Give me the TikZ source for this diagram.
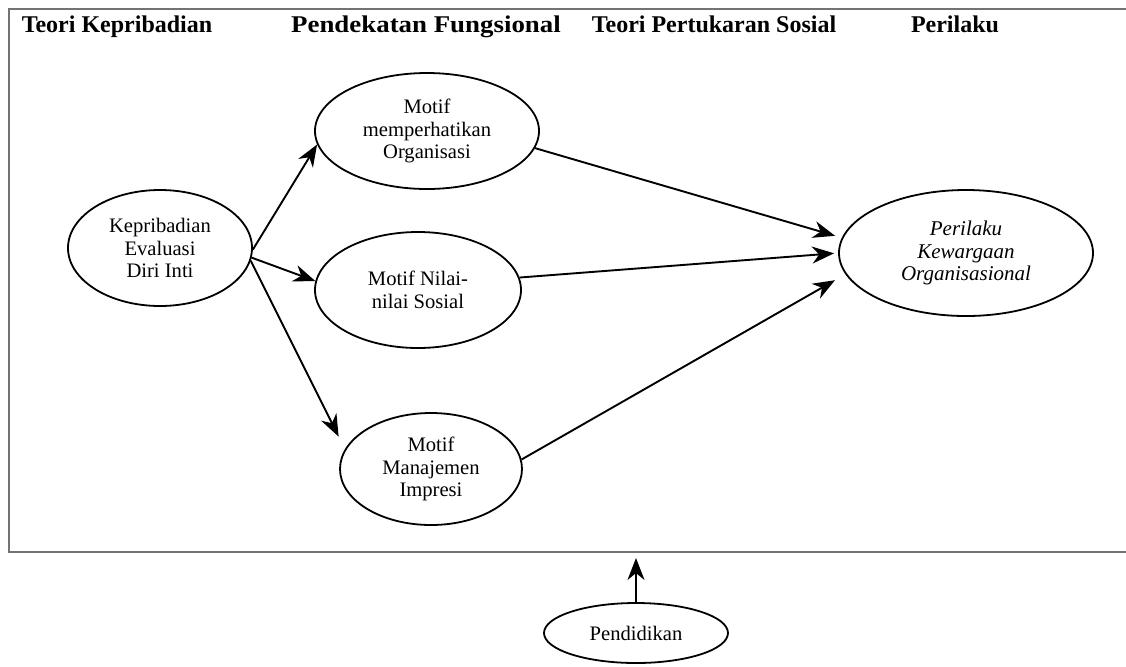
\documentclass[tikz,border=0pt]{standalone}
\usepackage{fontspec}
\setmainfont{Liberation Serif}
\usetikzlibrary{shapes.geometric,arrows.meta}
\begin{document}
\begin{tikzpicture}[x=0.5pt,y=-0.5pt,
  oval/.style={ellipse,draw=black,line width=0.9pt,inner sep=0pt,align=center,
    font=\fontsize{10.3pt}{11.2pt}\selectfont},
  header/.style={anchor=base,inner sep=0pt,font=\fontsize{12pt}{14pt}\selectfont\bfseries},
  conn/.style={draw=black,line width=0.95pt,-{Stealth[length=11pt,width=8.5pt,inset=3.5pt]}},
  framestyle/.style={draw=black!55,line width=1.2pt}]
\useasboundingbox (0,0) rectangle (1126,666);
\clip (0,0) rectangle (1126,666);
\fill[white] (0,0) rectangle (1126,666);
% frame
\coordinate (fr1) at (9,9);
\coordinate (fr2) at (1140,552);
\draw[framestyle] (fr1) rectangle (fr2);
% headers
\node[header] (h1) at (117,32) {Teori Kepribadian};
\node[header] (h2) at (426,32) {\scalebox{1.12}[1]{Pendekatan Fungsional}};
\node[header] (h3) at (714,32) {Teori Pertukaran Sosial};
\node[header] (h4) at (955,32) {Perilaku};
% ellipses
\node[oval,minimum width=92pt,minimum height=58pt] (k) at (160,248) {Kepribadian\\Evaluasi\\Diri Inti};
\node[oval,minimum width=112pt,minimum height=58pt] (m1) at (427,131) {Motif\\memperhatikan\\Organisasi};
\node[oval,minimum width=103pt,minimum height=58pt] (m2) at (418,290) {Motif Nilai-\\nilai Sosial};
\node[oval,minimum width=91pt,minimum height=56pt] (m3) at (431,469) {Motif\\Manajemen\\Impresi};
\node[oval,minimum width=127pt,minimum height=63pt,font=\fontsize{10.5pt}{11.2pt}\selectfont\itshape] (p) at (966,253) {Perilaku\\Kewargaan\\Organisasional};
\node[oval,minimum width=92pt,minimum height=30pt] (pd) at (636,633) {Pendidikan};
% connectors
\draw[conn] (k.-1) -- (m1.187);
\draw[conn] (k.-6) -- (m2.175);
\draw[conn,shorten >=7pt] (k.-8) -- (m3.167);
\draw[conn,shorten >=3.5pt] (m1.-9) -- (p.173.5);
\draw[conn,shorten >=2pt] (m2.7) -- (p.180);
\draw[conn,shorten >=6pt] (m3.6) -- (p.190.5);
\draw[conn,shorten >=3pt] (pd.north) -- (pd.north |- fr2);
\end{tikzpicture}
\end{document}
